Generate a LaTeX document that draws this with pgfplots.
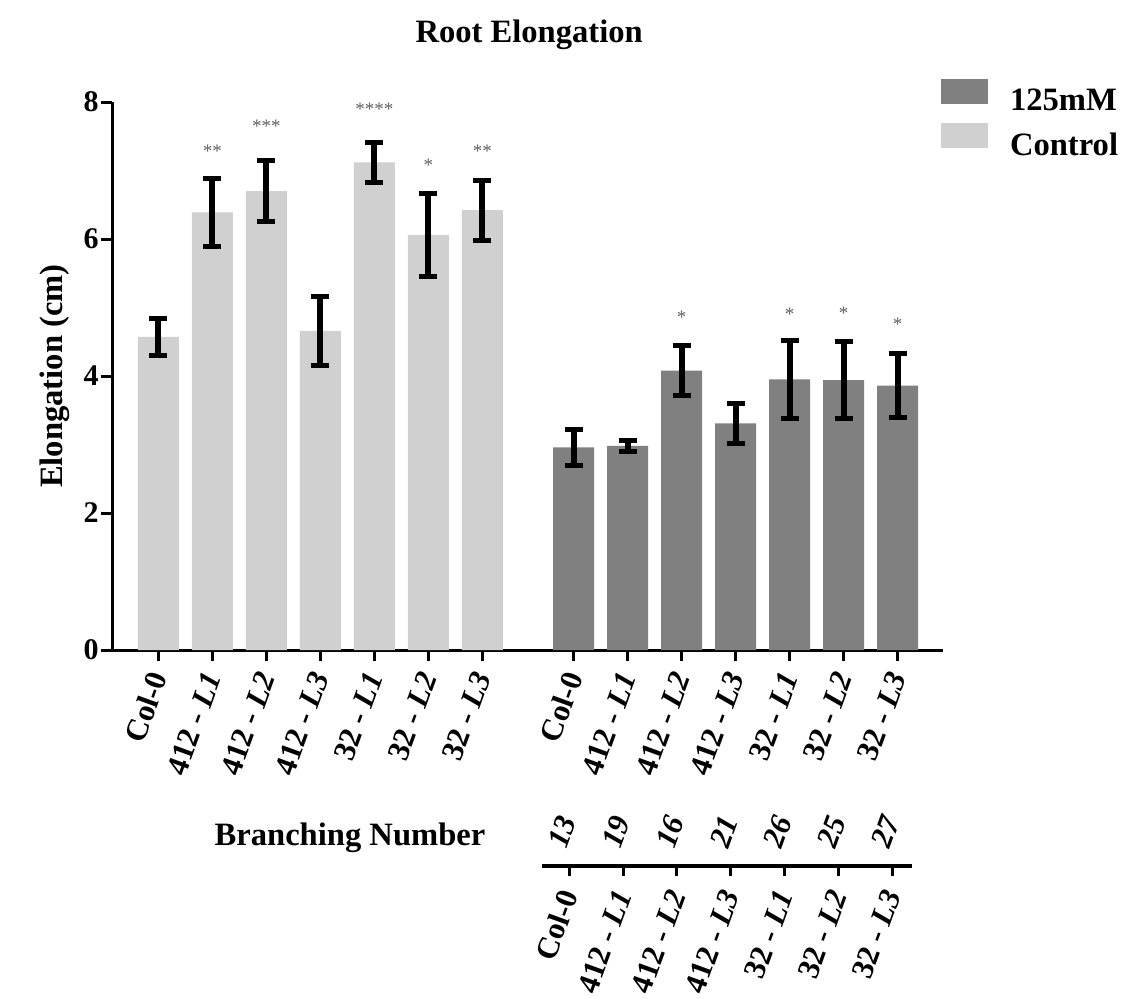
\documentclass[border=0pt]{standalone}
\usepackage{fontspec}
\setmainfont{Liberation Serif}
\usepackage{pgfplots}
\pgfplotsset{compat=1.18}
\definecolor{ctrl}{RGB}{208,208,208}
\definecolor{salt}{RGB}{128,128,128}
\definecolor{stargray}{RGB}{95,95,95}
\newcommand{\tlf}{\fontsize{15.5}{15.5}\selectfont\bfseries}
\newcommand{\bigf}{\fontsize{16.3}{16.3}\selectfont\bfseries}
\tikzset{sig/.style={font=\fontsize{9.5}{9.5}\selectfont, text=stargray, inner sep=0pt, yshift=-1pt}}
\begin{document}
\begin{tikzpicture}[x=1pt,y=1pt]
\useasboundingbox (0,0) rectangle (570.5,-499);
\begin{axis}[
  at={(56pt,-325pt)}, anchor=south west,
  scale only axis, width=415.5pt, height=274pt,
  xmin=-0.857, xmax=14.53, ymin=0, ymax=8,
  enlargelimits=false,
  axis lines=left,
  axis line style={-, line width=1.5pt},
  ytick={0,2,4,6,8},
  xtick={0,1,2,3,4,5,6,7.69,8.69,9.69,10.69,11.69,12.69,13.69},
  xticklabels={Col-0, 412 - \textit{L1}, 412 - \textit{L2}, 412 - \textit{L3}, 32 - \textit{L1}, 32 - \textit{L2}, 32 - \textit{L3},
               Col-0, 412 - \textit{L1}, 412 - \textit{L2}, 412 - \textit{L3}, 32 - \textit{L1}, 32 - \textit{L2}, 32 - \textit{L3}},
  tick align=outside,
  major tick length=5.5pt,
  tick style={line width=1.5pt, black},
  /pgf/number format/assume math mode=true,
  yticklabel style={font=\fontsize{15}{15}\selectfont\bfseries, inner sep=0pt, xshift=-1pt},
  xticklabel style={font=\tlf, inner sep=0pt, yshift=-6pt, rotate=70, anchor=east},
  ybar, bar width=20.5pt, bar shift=0pt,
  ylabel={Elongation (cm)},
  ylabel style={font=\bigf, at={(axis description cs:-0.0686,0.5)}, anchor=center},
  title={Root Elongation},
  title style={font=\bigf, at={(axis description cs:0.502,1.100)}, anchor=center},
  legend style={at={(axis description cs:0.9976,1.042)}, anchor=north west, draw=none, fill=none,
    font=\bigf, nodes={inner sep=0pt}, column sep=11pt, row sep=4.6pt, inner sep=0pt, outer sep=0pt},
  legend cell align=left,
  legend image code/.code={\fill[#1] (0pt,-1.2pt) rectangle (23.5pt,11.3pt);},
  clip=false,
  error bars/error mark=|,
  error bars/error bar style={line width=3pt, black},
  error bars/error mark options={mark size=4.5pt, line width=2.5pt, black},
]
\addplot[fill=salt, draw=none, error bars/.cd, y dir=both, y explicit] coordinates {
  (7.69,2.96) +- (0,0.26)
  (8.69,2.98) +- (0,0.08)
  (9.69,4.08) +- (0,0.37)
  (10.69,3.31) +- (0,0.29)
  (11.69,3.95) +- (0,0.57)
  (12.69,3.94) +- (0,0.56)
  (13.69,3.86) +- (0,0.47)
};
\addlegendentry{125mM}
\addplot[fill=ctrl, draw=none, error bars/.cd, y dir=both, y explicit] coordinates {
  (0,4.57) +- (0,0.27)
  (1,6.39) +- (0,0.50)
  (2,6.70) +- (0,0.44)
  (3,4.66) +- (0,0.50)
  (4,7.12) +- (0,0.29)
  (5,6.06) +- (0,0.61)
  (6,6.42) +- (0,0.44)
};
\addlegendentry{Control}
\node[sig] at (axis cs:1,7.31) {**};
\node[sig] at (axis cs:2,7.68) {***};
\node[sig] at (axis cs:4,7.93) {****};
\node[sig] at (axis cs:5,7.11) {*};
\node[sig] at (axis cs:6,7.31) {**};
\node[sig] at (axis cs:9.69,4.88) {*};
\node[sig] at (axis cs:11.69,4.93) {*};
\node[sig] at (axis cs:12.69,4.95) {*};
\node[sig] at (axis cs:13.69,4.79) {*};
\end{axis}
\node[font=\bigf] at (175pt,-419pt) {Branching Number};
\begin{axis}[
  at={(270.85pt,-433pt)}, anchor=south west,
  scale only axis, width=185.3pt, height=20pt,
  xmin=-0.51, xmax=6.37, ymin=0, ymax=1,
  axis x line=bottom, axis y line=none,
  axis line style={-, line width=2pt},
  xtick={0,1,2,3,4,5,6},
  xticklabels={Col-0, 412 - \textit{L1}, 412 - \textit{L2}, 412 - \textit{L3}, 32 - \textit{L1}, 32 - \textit{L2}, 32 - \textit{L3}},
  tick align=outside,
  major tick length=5pt,
  tick style={line width=1.5pt, black},
  xticklabel style={font=\tlf, inner sep=0pt, yshift=-7.5pt, rotate=70, anchor=east},
  clip=false,
]
\addplot[draw=none, nodes near coords, point meta=explicit symbolic,
  nodes near coords style={font=\tlf\itshape, inner sep=0pt, anchor=west, xshift=-6.2pt, yshift=9.7pt, rotate=70}]
  coordinates {(0,0) [13] (1,0) [19] (2,0) [16] (3,0) [21] (4,0) [26] (5,0) [25] (6,0) [27]};
\end{axis}
\end{tikzpicture}
\end{document}
